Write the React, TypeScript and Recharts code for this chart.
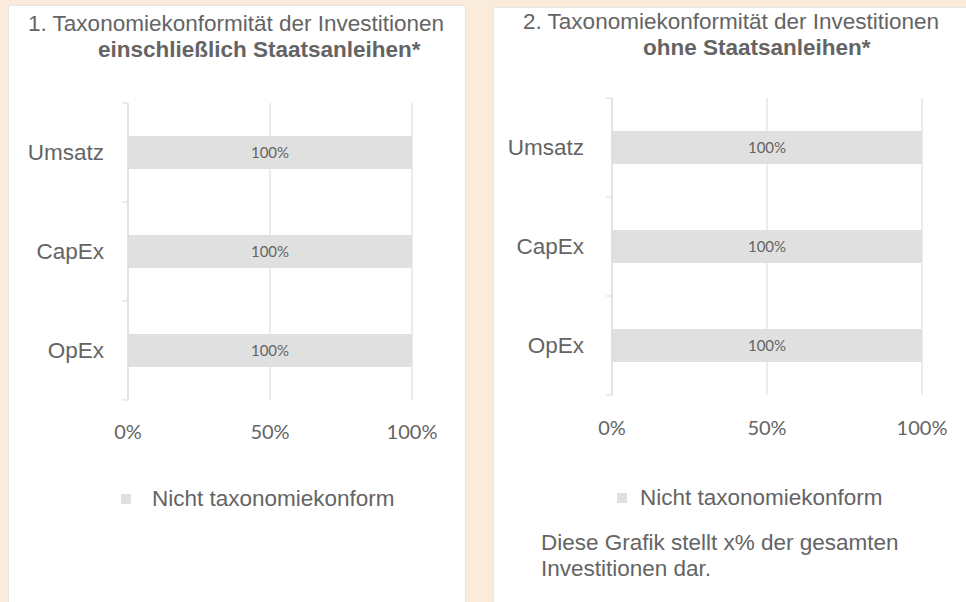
import React from "react";
import { BarChart, Bar, XAxis, YAxis, CartesianGrid, LabelList, Legend } from "recharts";

// Kategorien und Werte (Anteil nicht taxonomiekonform, in %)
const categories = ["Umsatz", "CapEx", "OpEx"];
const mitStaatsanleihen = [100, 100, 100];
const ohneStaatsanleihen = [100, 100, 100];
const xTicks = [0, 50, 100];
const seriesName = "Nicht taxonomiekonform";

const GRAU = "#646464";
const BALKEN = "#E0E0E0";
const LINIE = "#D9D9D9";
const PFIRSICH = "#FAEBDB";
const RAND = "#E6E6E6";
const ARIAL = "'Liberation Sans', Arial, sans-serif";
const CALIBRI = "Lato, 'Open Sans', sans-serif";

const buildRows = (values: number[]) =>
  categories.map((name, i) => ({ name, wert: values[i] }));

// Kategorie-Beschriftung + Teilstriche zwischen den Kategorien (wie Excel)
const makeCategoryTick = (gap: number) => (props: any) => {
  const { x, y, payload, index } = props;
  const half = payload?.offset ?? 0;
  const last = index === categories.length - 1;
  return (
    <g>
      <line x1={x + 2} x2={x + 8} y1={y - half} y2={y - half} stroke={LINIE} />
      {last && <line x1={x + 2} x2={x + 8} y1={y + half} y2={y + half} stroke={LINIE} />}
      <text
        x={x - gap}
        y={y}
        dy="0.35em"
        textAnchor="end"
        fill={GRAU}
        fontSize={22.5}
        fontFamily={ARIAL}
      >
        {payload.value}
      </text>
    </g>
  );
};

const makeLegend = (gap: number) => (props: any) => (
  <div style={{ display: "flex", flexDirection: "column" }}>
    {(props.payload || []).map((item: any) => (
      <div
        key={item.value}
        style={{
          display: "flex",
          alignItems: "center",
          fontFamily: ARIAL,
          fontSize: 22.5,
          lineHeight: "22px",
          color: GRAU,
          whiteSpace: "nowrap",
        }}
      >
        <span style={{ width: 10, height: 10, background: item.color, marginRight: gap }} />
        <span>{item.value}</span>
      </div>
    ))}
  </div>
);

interface TaxChartProps {
  values: number[];
  left: number;
  top: number;
  width: number;
  yWidth: number;
  rightMargin: number;
  tickMargin: number;
  labelGap: number;
  legendLeft: number;
  legendTop: number;
  legendGap: number;
}

const TaxChart: React.FC<TaxChartProps> = (p) => (
  <div style={{ position: "absolute", left: p.left, top: p.top }}>
    <BarChart
      width={p.width}
      height={440}
      data={buildRows(p.values)}
      layout="vertical"
      margin={{ top: 13, right: p.rightMargin, bottom: 100, left: 0 }}
    >
      <CartesianGrid horizontal={false} stroke={LINIE} />
      <XAxis
        type="number"
        domain={[0, 100]}
        ticks={xTicks}
        interval={0}
        tickFormatter={(v) => `${v}%`}
        axisLine={false}
        tickLine={false}
        tickMargin={p.tickMargin}
        height={30}
        tick={{ fill: GRAU, fontSize: 20, fontFamily: CALIBRI }}
      />
      <YAxis
        type="category"
        dataKey="name"
        width={p.yWidth}
        interval={0}
        axisLine={{ stroke: LINIE }}
        tickLine={false}
        tick={makeCategoryTick(p.labelGap)}
      />
      <Legend
        layout="horizontal"
        verticalAlign="middle"
        align="center"
        content={makeLegend(p.legendGap)}
        wrapperStyle={{ left: p.legendLeft, top: p.legendTop, width: "auto", height: "auto" }}
      />
      <Bar dataKey="wert" name={seriesName} fill={BALKEN} barSize={33} isAnimationActive={false}>
        <LabelList
          dataKey="wert"
          position="center"
          formatter={(v: any) => `${v}%`}
          fill={GRAU}
          fontSize={15}
          fontFamily={CALIBRI}
        />
      </Bar>
    </BarChart>
  </div>
);

const line = (left: number, top: number, bold: boolean, text: string) => (
  <div
    style={{
      position: "absolute",
      left,
      top,
      fontSize: 22.5,
      lineHeight: "26px",
      fontWeight: bold ? "bold" : "normal",
      color: GRAU,
      whiteSpace: "nowrap",
    }}
  >
    {text}
  </div>
);

export default function App() {
  return (
    <div
      style={{
        position: "absolute",
        left: 0,
        top: 0,
        width: 966,
        height: 602,
        background: PFIRSICH,
        overflow: "hidden",
        fontFamily: ARIAL,
      }}
    >
      <div
        style={{
          position: "absolute",
          left: 8,
          top: 5,
          width: 456,
          height: 620,
          background: "#fff",
          border: `1px solid ${RAND}`,
        }}
      />
      <div
        style={{
          position: "absolute",
          left: 493,
          top: 7,
          width: 480,
          height: 620,
          background: "#fff",
          border: `1px solid ${RAND}`,
        }}
      />

      {line(28, 11, false, "1. Taxonomiekonformität der Investitionen")}
      {line(98, 37, true, "einschließlich Staatsanleihen*")}
      {line(523, 9, false, "2. Taxonomiekonformität der Investitionen")}
      {line(643, 35, true, "ohne Staatsanleihen*")}

      <TaxChart
        values={mitStaatsanleihen}
        left={8}
        top={90}
        width={457}
        yWidth={120}
        rightMargin={53}
        tickMargin={19}
        labelGap={16}
        legendLeft={113}
        legendTop={398}
        legendGap={21}
      />
      <TaxChart
        values={ohneStaatsanleihen}
        left={493}
        top={85}
        width={473}
        yWidth={119}
        rightMargin={44}
        tickMargin={20}
        labelGap={20}
        legendLeft={124}
        legendTop={402}
        legendGap={13}
      />

      {line(541, 530, false, "Diese Grafik stellt x% der gesamten")}
      {line(541, 556, false, "Investitionen dar.")}
    </div>
  );
}
